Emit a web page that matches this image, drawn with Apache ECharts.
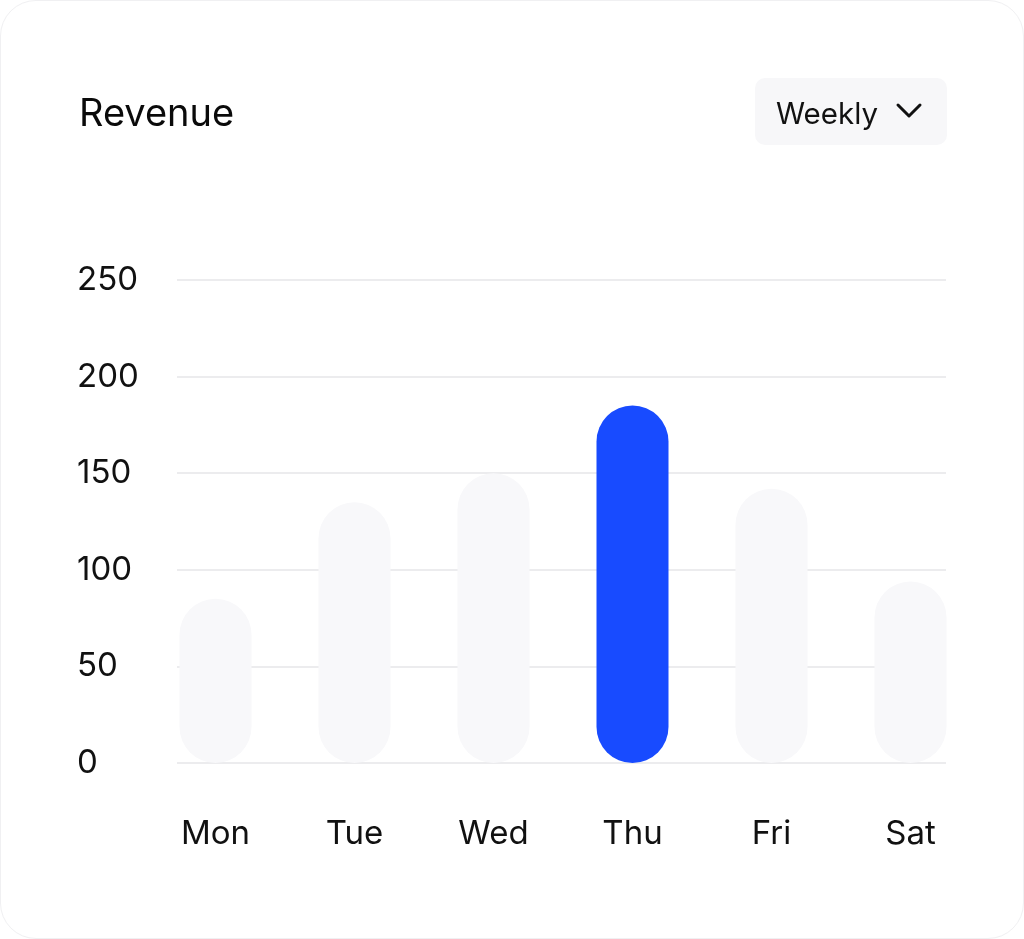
<!DOCTYPE html>
<html>
<head>
<meta charset="utf-8">
<script src="https://cdn.jsdelivr.net/npm/echarts@6/dist/echarts.min.js"></script>
<style>
  html, body { margin: 0; padding: 0; background: #ffffff; }
  #card {
    position: absolute; left: 0; top: 0;
    width: 1022px; height: 937px;
    border: 1px solid #f0f0f2; border-radius: 36px;
    background: #ffffff; overflow: hidden;
  }
  #chart { width: 1022px; height: 937px; }
</style>
</head>
<body>
<div id="card"><div id="chart"></div></div>
<script>
  const days = ["Mon", "Tue", "Wed", "Thu", "Fri", "Sat"]
  const revenue = [85, 135, 150, 185, 142, 94]
  const highlightDay = "Thu"
  const yTicks = [0, 50, 100, 150, 200, 250]

  const font = "Inter, 'Noto Sans', sans-serif"
  const yMax = yTicks[yTicks.length - 1]
  const yStep = yTicks[1] - yTicks[0]

  const chart = echarts.init(document.getElementById("chart"))

  const option = {
    animation: false,
    graphic: [
      {
        type: "text",
        left: 78,
        top: 95,
        style: { text: "Revenue", font: "400 38px " + font, fill: "#0a0a0a" },
      },
      {
        type: "rect",
        shape: { x: 754, y: 77, width: 192, height: 67, r: 10 },
        style: { fill: "#f7f7f9" },
      },
      {
        type: "text",
        left: 775,
        top: 99,
        style: { text: "Weekly", font: "29.5px " + font, fill: "#111111" },
      },
      {
        type: "polyline",
        shape: { points: [[897, 104], [908, 115], [919, 104]] },
        style: { stroke: "#111111", lineWidth: 3, fill: null, lineCap: "round", lineJoin: "round" },
      },
    ],
    grid: [
      { left: 176, right: 77, top: 279, bottom: 175 },
      { left: 145, right: 43, top: 279, bottom: 175 },
    ],
    xAxis: [
      {
        gridIndex: 0,
        type: "category",
        data: days,
        show: false,
      },
      {
        gridIndex: 1,
        type: "category",
        data: days,
        axisLine: { show: false },
        axisTick: { show: false },
        axisLabel: {
          color: "#111111",
          fontFamily: font,
          fontSize: 33,
          margin: 55,
        },
      },
    ],
    yAxis: [
      {
        gridIndex: 0,
        type: "value",
        min: 0,
        max: yMax,
        interval: yStep,
        axisLine: { show: false },
        axisTick: { show: false },
        splitLine: { lineStyle: { color: "#ececee", width: 2 } },
        axisLabel: {
          color: "#111111",
          fontFamily: font,
          fontSize: 33,
          align: "left",
          margin: 100,
        },
      },
      {
        gridIndex: 1,
        type: "value",
        min: 0,
        max: yMax,
        interval: yStep,
        show: false,
        splitLine: { show: false },
      },
    ],
    series: [
      {
        type: "bar",
        xAxisIndex: 1,
        yAxisIndex: 1,
        barWidth: 72,
        data: revenue.map((v, i) => ({
          value: v,
          itemStyle: { color: days[i] === highlightDay ? "#184bff" : "#f8f8fa" },
        })),
        itemStyle: { borderRadius: 36 },
      },
    ],
  }

  chart.setOption(option)
</script>
</body>
</html>
